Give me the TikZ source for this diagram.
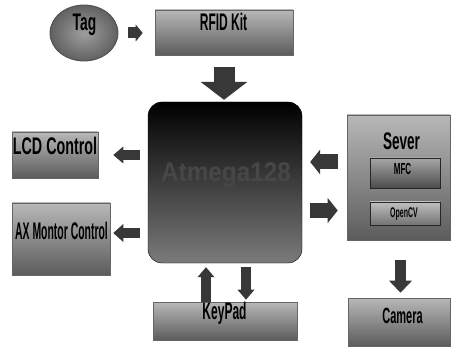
\documentclass[tikz,border=0pt]{standalone}
\usepackage{fontspec}
\setmainfont{Liberation Sans}
\newfontfamily\cf[FakeStretch=0.5]{Liberation Sans Bold}
\newfontfamily\cfw[FakeStretch=0.9]{Liberation Sans Bold}
\newcommand\fsz[1]{\fontsize{#1}{#1}\selectfont}
\usetikzlibrary{arrows.meta,shapes.geometric,calc}
\begin{document}
\begin{tikzpicture}[x=1pt,y=-1pt,
  box/.style={draw=black!60, line width=0.6pt, top color=black!28, bottom color=black!64, inner sep=0pt},
  subbox/.style={draw=black!85, line width=0.8pt, top color=black!35, bottom color=black!70, inner sep=0pt},
  txt/.style={inner sep=0pt, anchor=base, text=black, font=\cf\fsz{24pt}},
  arr/.style n args={3}{line width=#1, draw=black!78,
    -{Triangle[width=#2, length=#3, line width=0pt]}}]
\useasboundingbox (0,0) rectangle (452,347);
% nodes
\node[ellipse, draw=black!70, line width=0.8pt, inner color=black!38, outer color=black!62,
      minimum width=68pt, minimum height=56pt] (tag) at (84,33) {};
\node[box, minimum width=138pt, minimum height=45pt] (rfid) at (224,32.5) {};
\node[draw=black, rounded corners=14pt, top color=black, middle color=black!88, bottom color=black!52,
      minimum width=154pt, minimum height=161pt] (main) at (225,182.5) {};
\node[box, minimum width=86pt, minimum height=46pt] (lcd) at (55,155) {};
\node[box, minimum width=98pt, minimum height=72pt] (ax) at (61,239) {};
\node[box, minimum width=103pt, minimum height=125pt] (server) at (398.5,177.5) {};
\node[subbox, minimum width=70pt, minimum height=30pt] (mfc) at (405,173) {};
\node[subbox, top color=black!25, bottom color=black!55, minimum width=70pt, minimum height=23pt] (opencv) at (405,213.5) {};
\node[box, minimum width=102pt, minimum height=48pt] (camera) at (399,322) {};
\node[box, minimum width=144pt, minimum height=38pt] (keypad) at (225,321) {};
% texts
\node[txt] (tagt) at (84.5,31) {\scalebox{1.15}[1]{Tag}};
\node[txt] (rfidt) at (223.5,31) {RFID Kit};
\node[txt, font=\cfw\fsz{27pt}, text=black!72] (maint) at (226,182) {Atmega128};
\node[txt] (lcdt) at (55,155) {\scalebox{1.19}[1]{LCD Control}};
\node[txt] (axt) at (61.5,240) {\scalebox{0.87}[1]{AX Montor Control}};
\node[txt] (svt) at (401.5,150) {\scalebox{1.13}[1]{Sever}};
\node[txt, font=\cf\fsz{16pt}] (mfct) at (402.5,175) {MFC};
\node[txt, font=\cf\fsz{14pt}] (ocvt) at (404,218) {OpenCV};
\node[txt, font=\cf\fsz{22pt}] (camt) at (402.5,323) {Camera};
\node[txt] (kpt) at (224.5,319) {KeyPad};
% connectors
\coordinate (ax1) at ([yshift=6pt]ax.east);
\coordinate (sv1) at ([yshift=15.5pt]server.west);
\coordinate (sv2) at ([yshift=-33pt]server.west);
\coordinate (kp1) at ([xshift=-19pt]keypad.north);
\coordinate (kp2) at ([xshift=21pt]keypad.north);
\coordinate (sv3) at ([xshift=2pt]server.south);
\draw[arr={11pt}{17pt}{7pt}, shorten <=10pt, shorten >=12pt] (tag.east) -- (tag.east -| rfid.west);
\draw[arr={21pt}{47pt}{18pt}, shorten <=12pt, shorten >=2pt] (rfid.south) -- (rfid.south |- main.north);
\draw[arr={10pt}{17pt}{10pt}, shorten <=8pt, shorten >=15pt] (main.west |- lcd.east) -- (lcd.east);
\draw[arr={10pt}{18pt}{10pt}, shorten <=8pt, shorten >=3pt] (main.west |- ax1) -- (ax1);
\draw[arr={15pt}{25pt}{10pt}, shorten <=9pt, shorten >=8pt] (sv1) -- (sv1 -| main.east);
\draw[arr={15pt}{25pt}{10pt}, shorten <=8pt, shorten >=9pt] (sv2 -| main.east) -- (sv2);
\draw[arr={11pt}{23pt}{12pt}, shorten <=20pt, shorten >=5pt] (sv3) -- (sv3 |- camera.north);
\draw[arr={10pt}{17pt}{10pt}, shorten <=0pt, shorten >=4pt] (kp1) -- (kp1 |- main.south);
\draw[arr={10pt}{17pt}{10pt}, shorten <=4pt, shorten >=2pt] (kp2 |- main.south) -- (kp2);
\end{tikzpicture}
\end{document}
